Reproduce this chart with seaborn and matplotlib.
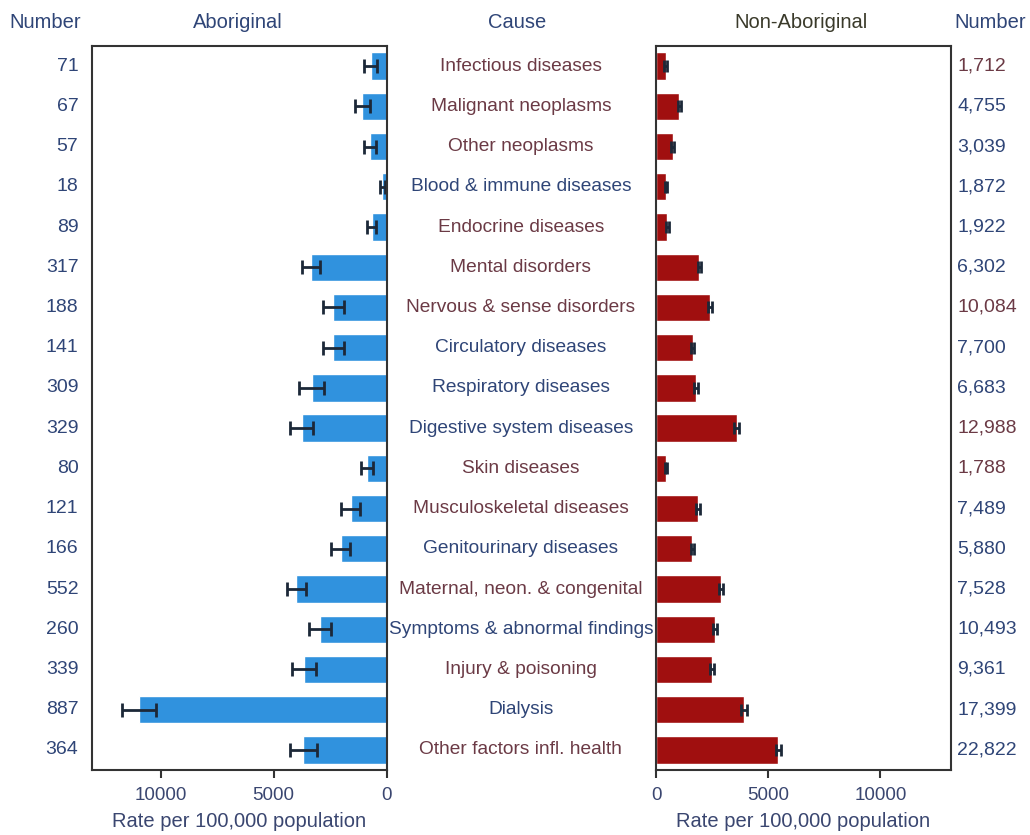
import numpy as np
import pandas as pd
import matplotlib
matplotlib.use("Agg")
import matplotlib.pyplot as plt
import matplotlib.transforms as mtransforms
import seaborn as sns

# Hospitalisation rates by cause, Aboriginal vs non-Aboriginal
causes = [
    "Infectious diseases", "Malignant neoplasms", "Other neoplasms",
    "Blood & immune diseases", "Endocrine diseases", "Mental disorders",
    "Nervous & sense disorders", "Circulatory diseases", "Respiratory diseases",
    "Digestive system diseases", "Skin diseases", "Musculoskeletal diseases",
    "Genitourinary diseases", "Maternal, neon. & congenital",
    "Symptoms & abnormal findings", "Injury & poisoning", "Dialysis",
    "Other factors infl. health",
]

abor_rate = [710, 1075, 740, 190, 660, 3330, 2360, 2360, 3320, 3760,
             855, 1590, 2035, 4000, 2965, 3660, 10950, 3690]
abor_ci = [280, 330, 275, 100, 200, 400, 480, 480, 550, 500,
           260, 420, 420, 410, 490, 520, 740, 590]
abor_number = ["71", "67", "57", "18", "89", "317", "188", "141", "309", "329",
               "80", "121", "166", "552", "260", "339", "887", "364"]

nonab_rate = [430, 1040, 740, 430, 500, 1930, 2400, 1630, 1770, 3590,
              450, 1880, 1620, 2890, 2640, 2490, 3920, 5460]
nonab_ci = [60, 70, 60, 50, 60, 80, 90, 80, 80, 100,
            60, 80, 80, 100, 90, 90, 120, 130]
nonab_number = ["1,712", "4,755", "3,039", "1,872", "1,922", "6,302", "10,084",
                "7,700", "6,683", "12,988", "1,788", "7,489", "5,880", "7,528",
                "10,493", "9,361", "17,399", "22,822"]

# label text tones
NAVY = "#2f4577"
BROWN = "#6b3a45"
cause_colors = [BROWN, BROWN, BROWN, NAVY, BROWN, BROWN, BROWN, NAVY, NAVY,
                NAVY, BROWN, BROWN, NAVY, BROWN, NAVY, BROWN, NAVY, BROWN]
number_colors = [BROWN, NAVY, NAVY, NAVY, NAVY, NAVY, BROWN, NAVY, NAVY,
                 BROWN, BROWN, NAVY, NAVY, NAVY, NAVY, NAVY, NAVY, NAVY]

sns.set_theme(style="ticks")
plt.rcParams["font.family"] = ["Liberation Sans", "DejaVu Sans"]

fig = plt.figure(figsize=(10.3, 8.35), dpi=100)
W, H = 1030, 835
ax_top, ax_bot = 46, 770
axL = fig.add_axes([91.7 / W, 1 - ax_bot / H, 295 / W, (ax_bot - ax_top) / H])
axR = fig.add_axes([656 / W, 1 - ax_bot / H, 295 / W, (ax_bot - ax_top) / H])

dfL = pd.DataFrame({"cause": causes, "rate": abor_rate})
dfR = pd.DataFrame({"cause": causes, "rate": nonab_rate})

sns.barplot(data=dfL, x="rate", y="cause", ax=axL, color="#3092de",
            saturation=1, width=0.68, orient="h", errorbar=None)
sns.barplot(data=dfR, x="rate", y="cause", ax=axR, color="#a00f0f",
            saturation=1, width=0.68, orient="h", errorbar=None)

ypos = np.arange(len(causes))
err_color = "#1c2838"
axL.errorbar(abor_rate, ypos, xerr=abor_ci, fmt="none", ecolor=err_color,
             elinewidth=2, capsize=5, capthick=2)
axR.errorbar(nonab_rate, ypos, xerr=nonab_ci, fmt="none", ecolor=err_color,
             elinewidth=2, capsize=4, capthick=2)

axL.set_xlim(13050, 0)
axR.set_xlim(0, 13150)
tick_color = "#3a4670"
for ax, ticks in ((axL, [10000, 5000, 0]), (axR, [0, 5000, 10000])):
    ax.set_ylim(len(causes) - 0.5, -0.5)
    ax.set_xticks(ticks)
    ax.set_xticklabels([str(t) for t in ticks], fontsize=13.5, color=tick_color)
    ax.set_yticks([])
    ax.set_ylabel("")
    ax.set_xlabel("Rate per 100,000 population", fontsize=14.5, color=tick_color,
                  labelpad=6)
    ax.tick_params(axis="x", length=6, width=1.5, color="#333333", pad=6)
    for sp in ax.spines.values():
        sp.set_visible(True)
        sp.set_color("#333333")
        sp.set_linewidth(1.5)

transL = mtransforms.blended_transform_factory(axL.transAxes, axL.transData)
transR = mtransforms.blended_transform_factory(axR.transAxes, axR.transData)

for i, (cause, col) in enumerate(zip(causes, cause_colors)):
    axL.text(-0.045, i, abor_number[i], transform=transL, ha="right",
             va="center", fontsize=14, color=NAVY)
    axR.text(1.022, i, nonab_number[i], transform=transR, ha="left",
             va="center", fontsize=14, color=number_colors[i])
    axL.text(1.455, i, cause, transform=transL, ha="center", va="center",
             fontsize=13.8, color=col)

hy = 1 - 22 / H
fig.text(45 / W, hy, "Number", ha="center", va="center", fontsize=14.5, color=NAVY)
fig.text(238 / W, hy, "Aboriginal", ha="center", va="center", fontsize=14.5, color=NAVY)
fig.text(517 / W, hy, "Cause", ha="center", va="center", fontsize=14.5, color=NAVY)
fig.text(801 / W, hy, "Non-Aboriginal", ha="center", va="center", fontsize=14.5, color="#3a3a2a")
fig.text(990 / W, hy, "Number", ha="center", va="center", fontsize=14.5, color=NAVY)

fig.savefig("out.png", dpi=100, facecolor="white")
